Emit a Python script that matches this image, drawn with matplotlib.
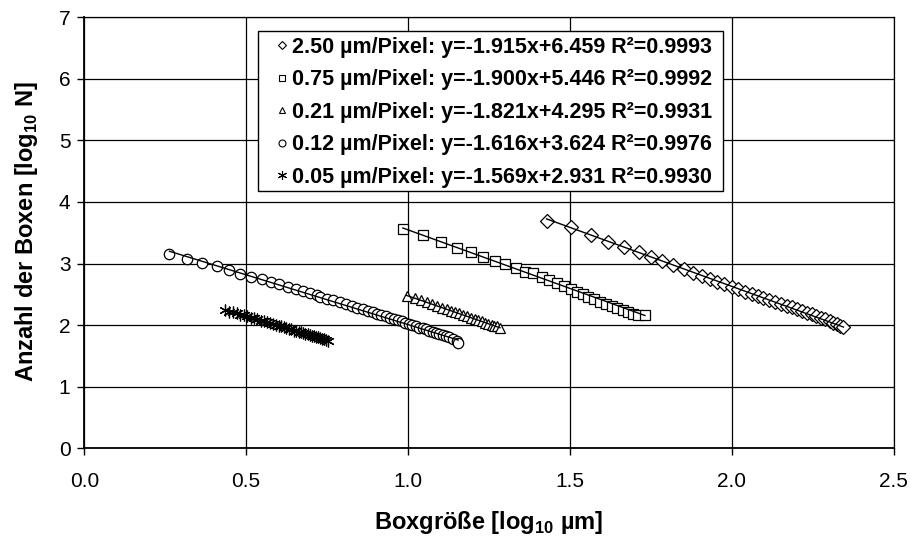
import matplotlib
matplotlib.use("Agg")
import matplotlib.pyplot as plt
from matplotlib.lines import Line2D
from matplotlib.patches import Rectangle
import numpy as np

plt.rcParams['font.family'] = ['Liberation Sans', 'DejaVu Sans']
plt.rcParams['mathtext.fontset'] = 'custom'
plt.rcParams['mathtext.rm'] = 'Liberation Sans'
plt.rcParams['mathtext.bf'] = 'Liberation Sans:bold'

# ---- data ----
labels = ["2.50 µm/Pixel", "0.75 µm/Pixel", "0.21 µm/Pixel", "0.12 µm/Pixel", "0.05 µm/Pixel"]
slopes = [-1.915, -1.900, -1.821, -1.616, -1.569]
intercepts = [6.459, 5.446, 4.295, 3.624, 2.931]
r2 = [0.9993, 0.9992, 0.9931, 0.9976, 0.9930]

x_250 = [1.428, 1.503, 1.564, 1.618, 1.666, 1.713, 1.751, 1.786, 1.819, 1.852, 1.881, 1.907, 1.933,
         1.956, 1.977, 2.000, 2.020, 2.041, 2.062, 2.080, 2.098, 2.116, 2.134, 2.151, 2.170, 2.185,
         2.201, 2.216, 2.232, 2.247, 2.260, 2.275, 2.288, 2.302, 2.314, 2.324, 2.335, 2.345]
y_250 = [3.695, 3.588, 3.468, 3.349, 3.268, 3.187, 3.110, 3.041, 2.976, 2.911, 2.851, 2.797, 2.748,
         2.705, 2.667, 2.619, 2.581, 2.542, 2.510, 2.477, 2.445, 2.407, 2.375, 2.347, 2.315, 2.289,
         2.261, 2.234, 2.201, 2.175, 2.148, 2.122, 2.096, 2.068, 2.041, 2.015, 1.987, 1.966]

x_075 = [0.984, 1.045, 1.101, 1.150, 1.194, 1.233, 1.268, 1.301, 1.333, 1.362, 1.387, 1.413, 1.437,
         1.459, 1.482, 1.503, 1.521, 1.540, 1.557, 1.575, 1.593, 1.612, 1.629, 1.647, 1.663, 1.681,
         1.696, 1.711, 1.732]
y_075 = [3.555, 3.458, 3.349, 3.256, 3.182, 3.110, 3.045, 2.987, 2.932, 2.867, 2.841, 2.786, 2.732,
         2.688, 2.635, 2.586, 2.542, 2.505, 2.461, 2.424, 2.380, 2.343, 2.310, 2.278, 2.245, 2.213,
         2.180, 2.164, 2.160]

x_021 = [0.996, 1.022, 1.040, 1.058, 1.073, 1.089, 1.104, 1.120, 1.133, 1.145, 1.158, 1.171, 1.183,
         1.195, 1.207, 1.217, 1.228, 1.238, 1.248, 1.259, 1.267, 1.275, 1.284]
y_021 = [2.47, 2.44, 2.40, 2.37, 2.34, 2.31, 2.28, 2.26, 2.23, 2.21, 2.19, 2.16, 2.14,
         2.12, 2.10, 2.08, 2.06, 2.04, 2.02, 2.00, 1.99, 1.98, 1.96]

x_012 = [0.263, 0.316, 0.365, 0.409, 0.447, 0.481, 0.514, 0.548, 0.577, 0.602, 0.628, 0.654, 0.676,
         0.697, 0.718, 0.728, 0.749, 0.769, 0.790, 0.808, 0.826, 0.843, 0.860, 0.875, 0.891, 0.905,
         0.918, 0.932, 0.944, 0.957, 0.968, 0.980, 0.992, 1.003, 1.013, 1.025, 1.035, 1.045, 1.056,
         1.066, 1.077, 1.087, 1.097, 1.107, 1.118, 1.128, 1.138, 1.150, 1.155]
y_012 = [3.154, 3.073, 3.013, 2.955, 2.899, 2.834, 2.786, 2.744, 2.700, 2.662, 2.623, 2.586, 2.554,
         2.521, 2.489, 2.46, 2.43, 2.40, 2.37, 2.34, 2.31, 2.28, 2.26, 2.23, 2.21, 2.18,
         2.16, 2.14, 2.12, 2.10, 2.08, 2.06, 2.04, 2.02, 2.00, 1.98, 1.96, 1.95, 1.93,
         1.91, 1.89, 1.87, 1.86, 1.84, 1.82, 1.80, 1.78, 1.74, 1.71]

x_005 = [0.435, 0.447, 0.459, 0.471, 0.482, 0.493, 0.504, 0.515, 0.525, 0.535, 0.545, 0.555, 0.564,
         0.573, 0.582, 0.591, 0.600, 0.608, 0.616, 0.624, 0.632, 0.640, 0.648, 0.655, 0.662, 0.669,
         0.676, 0.683, 0.690, 0.697, 0.703, 0.709, 0.716, 0.722, 0.728, 0.734, 0.740, 0.746, 0.752]
y_005 = [2.25, 2.22, 2.21, 2.20, 2.17, 2.16, 2.15, 2.12, 2.11, 2.10, 2.07, 2.06, 2.05,
         2.03, 2.02, 2.00, 1.99, 1.98, 1.97, 1.95, 1.94, 1.93, 1.91, 1.90, 1.89, 1.88,
         1.87, 1.86, 1.85, 1.84, 1.83, 1.82, 1.81, 1.80, 1.79, 1.78, 1.77, 1.76, 1.75]

x_ticks = [0.0, 0.5, 1.0, 1.5, 2.0, 2.5]
y_ticks = [0, 1, 2, 3, 4, 5, 6, 7]

series_x = [x_250, x_075, x_021, x_012, x_005]
series_y = [y_250, y_075, y_021, y_012, y_005]
markers = ['D', 's', '^', 'o', (6, 2, 0)]
msizes = [7.0, 7.5, 7.5, 7.5, 8.5]
leg_msizes = [4.5, 5.0, 5.0, 5.0, 6.5]

# ---- figure ----
W, H = 911, 545
fig = plt.figure(figsize=(W / 100, H / 100), dpi=100)
ax = fig.add_axes([84.3 / W, 1 - 448.3 / H, (893.6 - 84.3) / W, (448.3 - 17.1) / H])

for xs, ys, m, ms, sl, ic in zip(series_x, series_y, markers, msizes, slopes, intercepts):
    ax.plot(xs, ys, linestyle='none', marker=m, markersize=ms, markerfacecolor='white',
            markeredgecolor='black', markeredgewidth=0.9, zorder=3)
    xl = np.array([min(xs), max(xs)])
    ax.plot(xl, sl * xl + ic, color='black', linewidth=1.0, zorder=4)

ax.set_xlim(0, 2.5)
ax.set_ylim(0, 7)
ax.set_xticks(x_ticks)
ax.set_xticklabels([f"{v:.1f}" for v in x_ticks])
ax.set_yticks(y_ticks)
ax.set_yticklabels([str(v) for v in y_ticks])
ax.grid(True, color='black', linewidth=0.9)
ax.set_axisbelow(True)
for sp in ax.spines.values():
    sp.set_color('black')
    sp.set_linewidth(0.9)
ax.spines['left'].set_linewidth(1.3)
ax.spines['bottom'].set_linewidth(1.3)
ax.tick_params(direction='out', length=5, width=1, colors='black', labelsize=15)
ax.tick_params(axis='x', pad=12)
ax.tick_params(axis='y', pad=5)

fig.text(489 / W, 1 - 523 / H, r"Boxgröße [log$_{\mathbf{10}}$ µm]", fontsize=17,
         fontweight='bold', ha='center', va='center')
fig.text(27 / W, 1 - 232 / H, r"Anzahl der Boxen [log$_{\mathbf{10}}$ N]", fontsize=17,
         fontweight='bold', ha='center', va='center', rotation=90)

# legend frame
box = Rectangle((258.3 / W, 1 - 191 / H), (722.7 - 258.3) / W, (191 - 31) / H,
                transform=fig.transFigure, facecolor='white', edgecolor='black',
                linewidth=1.0, zorder=5)
fig.add_artist(box)

handles = [Line2D([], [], linestyle='none', marker=m, markersize=lm, markerfacecolor='white',
                  markeredgecolor='black', markeredgewidth=0.8)
           for m, lm in zip(markers, leg_msizes)]
leg_labels = [f"{l}: y={s:.3f}x+{i:.3f} R²={r:.4f}" for l, s, i, r in zip(labels, slopes, intercepts, r2)]
leg = fig.legend(handles, leg_labels, loc='upper left', bbox_to_anchor=(271.5 / W, 1 - 36.5 / H),
                 prop={'weight': 'bold', 'size': 15.5}, frameon=False,
                 handlelength=1.0, handletextpad=-0.05,
                 labelspacing=0.54, borderpad=0.0, borderaxespad=0)
leg.set_zorder(6)

fig.savefig("out.png", dpi=100)
